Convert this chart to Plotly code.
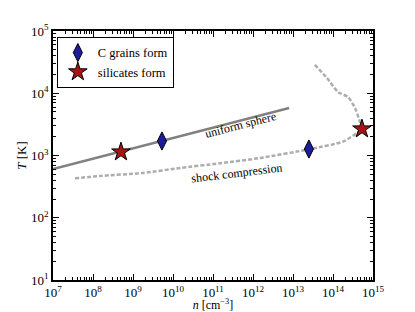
import plotly.graph_objects as go

# Data
sphere_n = [1e7, 8e12]
sphere_T = [607, 5800]

shock_logn = [7.55, 8.175, 9.25, 10.175, 11.175, 12.175, 13.4, 14.25, 14.6, 14.725,
              14.675, 14.55, 14.375, 14.125, 13.85, 13.525]
shock_logT = [2.634, 2.671, 2.719, 2.799, 2.875, 2.960, 3.100, 3.222, 3.361, 3.421,
              3.538, 3.763, 3.940, 4.020, 4.245, 4.470]

cgrain_n = [5.3e9, 2.5e13]
cgrain_T = [1710, 1270]
silic_n = [5.0e8, 5.3e14]
silic_T = [1140, 2670]

x_tick_exp = [7, 8, 9, 10, 11, 12, 13, 14, 15]
y_tick_exp = [1, 2, 3, 4, 5]

FONT = "Liberation Serif, Times New Roman, serif"

shock_n = [10 ** v for v in shock_logn]
shock_T = [10 ** v for v in shock_logT]

fig = go.Figure()
fig.add_trace(go.Scatter(x=sphere_n, y=sphere_T, mode="lines",
                         line=dict(color="#808080", width=2.5), showlegend=False))
fig.add_trace(go.Scatter(x=shock_n, y=shock_T, mode="lines",
                         line=dict(color="#adadad", width=2.5, dash="4px,2px", shape="spline", smoothing=0.6),
                         showlegend=False))
fig.add_trace(go.Scatter(x=cgrain_n, y=cgrain_T, mode="markers", name="C grains form",
                         marker=dict(symbol="diamond-tall", size=13, color="#1c1c9c",
                                     line=dict(color="black", width=1))))
fig.add_trace(go.Scatter(x=silic_n, y=silic_T, mode="markers", name="silicates form",
                         marker=dict(symbol="star", size=14, color="#a51515",
                                     line=dict(color="black", width=1))))

fig.add_annotation(x=11.675, y=3.49, xref="x", yref="y", text="uniform sphere",
                   showarrow=False, textangle=-14.5, font=dict(family=FONT, size=12, color="black"))
fig.add_annotation(x=11.6, y=2.72, xref="x", yref="y", text="shock compression",
                   showarrow=False, textangle=-7, font=dict(family=FONT, size=12, color="black"))

minor_x = [m * 10 ** k for k in range(7, 15) for m in range(2, 10)]
minor_y = [m * 10 ** k for k in range(1, 5) for m in range(2, 10)]

fig.update_xaxes(type="log", range=[7, 15], automargin=False,
                 tickvals=[10 ** e for e in x_tick_exp],
                 ticktext=[f"10<sup>{e}</sup>" for e in x_tick_exp],
                 ticks="inside", ticklen=6, tickcolor="black", tickwidth=1,
                 minor=dict(tickvals=minor_x, ticks="inside", ticklen=3, tickcolor="black", showgrid=False),
                 showline=True, linecolor="black", linewidth=1.5, mirror="allticks",
                 showgrid=False, zeroline=False,
                 tickfont=dict(family=FONT, size=13, color="black"),
                 title=dict(text="<i>n</i> [cm<sup>−3</sup>]", font=dict(family=FONT, size=12, color="black"),
                            standoff=0))
fig.update_yaxes(type="log", range=[1, 5], automargin=False,
                 tickvals=[10 ** e for e in y_tick_exp],
                 ticktext=[f"10<sup>{e}</sup>" for e in y_tick_exp],
                 ticks="inside", ticklen=6, tickcolor="black", tickwidth=1,
                 minor=dict(tickvals=minor_y, ticks="inside", ticklen=3, tickcolor="black", showgrid=False),
                 showline=True, linecolor="black", linewidth=1.5, mirror="allticks",
                 showgrid=False, zeroline=False,
                 tickfont=dict(family=FONT, size=13, color="black"),
                 title=dict(text="<i>T</i> [K]", font=dict(family=FONT, size=13, color="black"),
                            standoff=2))

fig.update_layout(width=415, height=312, margin=dict(l=53, r=42, t=31, b=32, autoexpand=False),
                  paper_bgcolor="white", plot_bgcolor="white",
                  font=dict(family=FONT, color="black"),
                  legend=dict(x=0.012, y=0.976, xanchor="left", yanchor="top",
                              bordercolor="black", borderwidth=1, bgcolor="white",
                              font=dict(family=FONT, size=12.5, color="black"),
                              tracegroupgap=0, itemwidth=30))

fig.write_html("out.html", config={"displayModeBar": False},
               post_script="document.body.style.margin='0';document.body.style.overflow='hidden';")
